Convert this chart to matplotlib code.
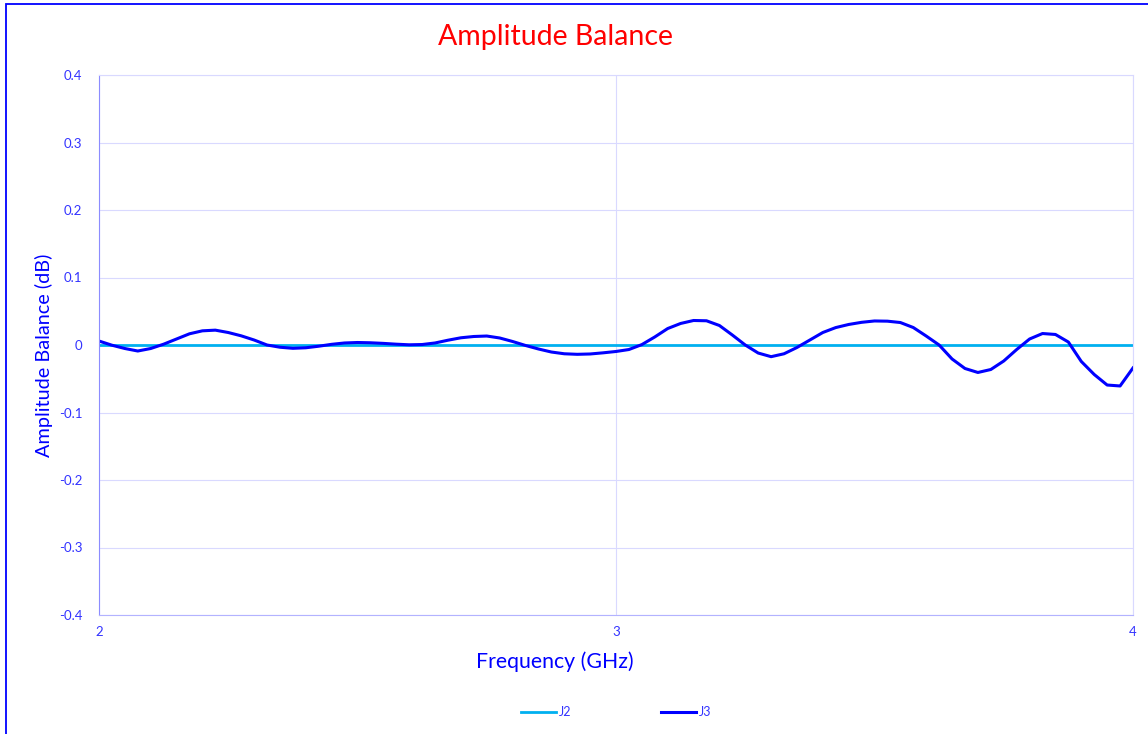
import numpy as np
import matplotlib.pyplot as plt
from matplotlib.patches import Rectangle

plt.rcParams['font.family'] = ['Lato', 'DejaVu Sans']

# frequency points (GHz), 25 MHz step
freq = np.arange(81) * 0.025 + 2.0

# J3 amplitude balance (dB)
j3 = [0.0059, -0.0003, -0.0052, -0.0089, -0.0052, 0.0012, 0.0089, 0.0166, 0.0210, 0.0220,
      0.0185, 0.0136, 0.0074, 0.0000, -0.0033, -0.0049, -0.0041, -0.0018, 0.0010, 0.0030,
      0.0037, 0.0033, 0.0024, 0.0012, 0.0003, 0.0007, 0.0030, 0.0071, 0.0107, 0.0126,
      0.0133, 0.0104, 0.0052, -0.0007, -0.0059, -0.0104, -0.0130, -0.0138, -0.0133, -0.0116,
      -0.0096, -0.0067, 0.0006, 0.0119, 0.0244, 0.0319, 0.0363, 0.0359, 0.0289, 0.0148,
      0.0000, -0.0119, -0.0173, -0.0130, -0.0037, 0.0074, 0.0185, 0.0258, 0.0304, 0.0336,
      0.0356, 0.0353, 0.0333, 0.0259, 0.0133, 0.0000, -0.0207, -0.0348, -0.0407, -0.0363,
      -0.0237, -0.0067, 0.0089, 0.0170, 0.0156, 0.0044, -0.0244, -0.0437, -0.0593, -0.0607,
      -0.0340]
# J2 is the reference port
j2 = [0.0] * len(freq)

xticks = [2, 3, 4]
yticks = [-0.4, -0.3, -0.2, -0.1, 0, 0.1, 0.2, 0.3, 0.4]
ylabels = ['-0.4', '-0.3', '-0.2', '-0.1', '0', '0.1', '0.2', '0.3', '0.4']

W, H = 1148, 734
fig = plt.figure(figsize=(W / 100, H / 100), dpi=100)
ax = fig.add_axes([99 / W, 1 - 615 / H, (1133 - 99) / W, (615 - 75) / H])

txt = '#3333FF'
ax.plot(freq, j2, color='#00B0F0', lw=2.0, label='J2')
ax.plot(freq, j3, color='#0000FF', lw=2.2, label='J3')

ax.set_xlim(2, 4)
ax.set_ylim(-0.4, 0.4)
ax.set_xticks(xticks)
ax.set_xticklabels([str(t) for t in xticks])
ax.set_yticks(yticks)
ax.set_yticklabels(ylabels)
ax.tick_params(length=0, colors=txt, labelsize=9.5)
ax.tick_params(axis='x', pad=8)
ax.tick_params(axis='y', pad=12)
ax.grid(color='#D9D9FF', lw=0.8)
ax.set_axisbelow(True)
for s in ['top', 'right']:
    ax.spines[s].set_color('#D9D9FF')
ax.spines['left'].set_color('#8C8CFF')
ax.spines['bottom'].set_color('#B3B3FF')

ax.set_xlabel('Frequency (GHz)', color='#0000FF', fontsize=15.3)
ax.xaxis.set_label_coords((555 - 99) / 1034, -(651 - 615) / 540)
ax.set_ylabel('Amplitude Balance (dB)', color='#0000FF', fontsize=14.3)
ax.yaxis.set_label_coords(-(99 - 53) / 1034, (615 - 355) / 540)
fig.text(555 / W, 1 - 37 / H, 'Amplitude Balance', color='#FF0000', fontsize=20.5,
         ha='center', va='center')

leg = fig.legend(loc='center', bbox_to_anchor=(616 / W, 1 - 712 / H), ncol=2,
                 frameon=False, fontsize=9, handlelength=2.8, handletextpad=0.2,
                 columnspacing=7.2)
for t in leg.get_texts():
    t.set_color(txt)

fig.patches.append(Rectangle((5.5 / W, -0.1), 1.2, 1 - 3.5 / H + 0.1,
                             transform=fig.transFigure, fill=False,
                             edgecolor='#0000FF', lw=1.3))

fig.savefig('out.png', dpi=100)
